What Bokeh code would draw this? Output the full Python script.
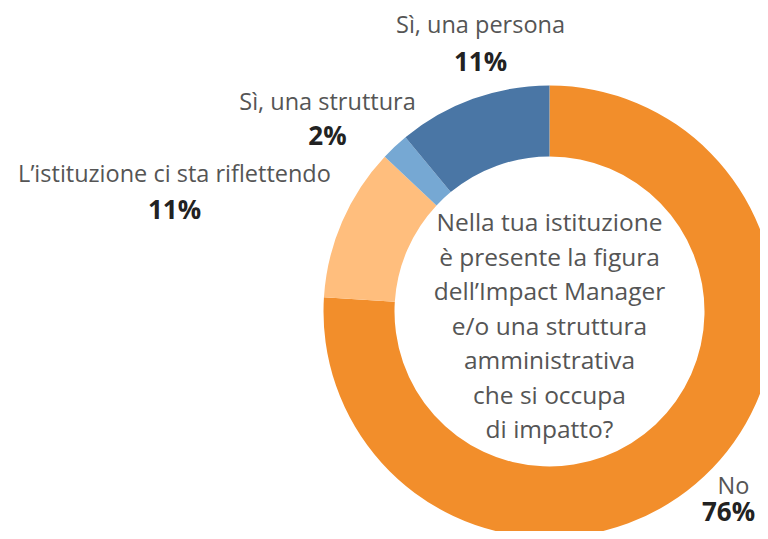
import math
from bokeh.plotting import figure
from bokeh.models import Range1d, ColumnDataSource
from bokeh.core.properties import value
from bokeh.embed import file_html
from bokeh.resources import INLINE

# Data (clockwise from 12 o'clock)
categories = ["No", "L\u2019istituzione ci sta riflettendo", "S\u00ec, una struttura", "S\u00ec, una persona"]
percent = [76, 11, 2, 11]
colors = ["#F28E2B", "#FFBE7D", "#76A8D3", "#4A76A5"]
center_question = ["Nella tua istituzione", "\u00e8 presente la figura", "dell\u2019Impact Manager",
                   "e/o una struttura", "amministrativa", "che si occupa", "di impatto?"]

W, H = 760, 531
FONT = "Open Sans"

def X(px):
    return px

def Y(py):
    return H - py

p = figure(width=W, height=H, output_backend="svg", toolbar_location=None,
           x_range=Range1d(0, W), y_range=Range1d(0, H), min_border=0)
p.axis.visible = False
p.grid.visible = False
p.outline_line_color = None
p.background_fill_color = "white"
p.border_fill_color = "white"

total = sum(percent)
cum = 0.0
starts, ends = [], []
for v in percent:
    s = cum / total
    cum += v
    e = cum / total
    # clockwise from top
    starts.append(math.pi / 2 - 2 * math.pi * e)
    ends.append(math.pi / 2 - 2 * math.pi * s)

cx, cy = X(549), Y(311)
src = ColumnDataSource(dict(start=starts, end=ends, color=colors, cat=categories))
p.annular_wedge(x=cx, y=cy, inner_radius=155, outer_radius=226,
                start_angle="start", end_angle="end", color="color",
                line_color=None, source=src)

# labels (category name, then percentage)
label_pos = {
    "No": (733, 484, 728, 510),
    "L\u2019istituzione ci sta riflettendo": (174, 172, 174, 208),
    "S\u00ec, una struttura": (327, 100, 327, 134),
    "S\u00ec, una persona": (480, 23, 480, 60),
}
lx, ly, px_, py_, lt, pt = [], [], [], [], [], []
for c, v in zip(categories, percent):
    a, b, c2, d = label_pos[c]
    lx.append(X(a)); ly.append(Y(b)); lt.append(c)
    px_.append(X(c2)); py_.append(Y(d)); pt.append(f"{v}%")

p.text(x=lx, y=ly, text=lt, text_font=value(FONT), text_font_size="23.5px",
       text_color="#555555", text_align="center", text_baseline="middle")
p.text(x=px_, y=py_, text=pt, text_font=value(FONT), text_font_size="26px",
       text_font_style="bold", text_color="#222222", text_align="center", text_baseline="middle")

qy = [Y(221 + i * 34.5) for i in range(len(center_question))]
p.text(x=[cx] * len(center_question), y=qy, text=center_question, text_font=value(FONT),
       text_font_size="24.5px", text_color="#555555", text_align="center", text_baseline="middle")

open("out.html", "w").write(file_html(p, INLINE))
